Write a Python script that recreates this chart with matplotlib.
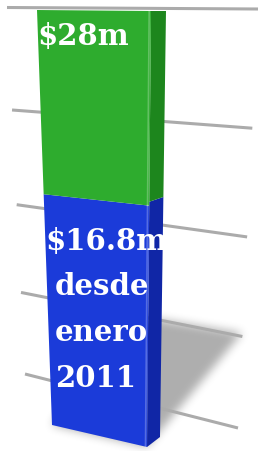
import numpy as np
import matplotlib
matplotlib.use("Agg")
import matplotlib.pyplot as plt
from matplotlib.transforms import Transform, Affine2D
from matplotlib.patches import Polygon
from matplotlib.path import Path

# ---------------- data ----------------
segment_names = ["desde enero 2011", "total"]
segment_values = [16.8, 11.2]          # stacked: blue bottom, green top (total 28)
segment_labels = ["\\$16.8m\ndesde\nenero\n2011", "\\$28m"]
grid_values = [0, 7, 14, 21, 28]

# ---------------- style ----------------
front_colors = ["#1b3bd9", "#2eac2e"]
side_colors = ["#1026a6", "#1d861d"]
grid_color = "#ababab"
W, H = 259, 451
DPI = 100


class Homography(Transform):
    """Projective (perspective) map from (u, value) space to canvas pixels."""
    input_dims = output_dims = 2
    is_separable = False
    has_inverse = False

    def __init__(self, src, dst):
        super().__init__()
        A, b = [], []
        for (x, y), (X, Y) in zip(src, dst):
            A.append([x, y, 1, 0, 0, 0, -X * x, -X * y]); b.append(X)
            A.append([0, 0, 0, x, y, 1, -Y * x, -Y * y]); b.append(Y)
        h = np.linalg.solve(np.array(A, float), np.array(b, float))
        self.M = np.append(h, 1.0).reshape(3, 3)

    def transform_non_affine(self, values):
        v = np.atleast_2d(np.asarray(values, float))
        p = np.c_[v, np.ones(len(v))] @ self.M.T
        return p[:, :2] / p[:, 2:3]


vmax = float(sum(segment_values))
unit_src = [(0, vmax), (1, vmax), (0, 0), (1, 0)]
wall = Homography(unit_src, [(7, 7.5), (258, 9), (25, 374), (238, 428)])
front = Homography(unit_src, [(37, 10), (151, 11), (52, 425), (147, 447)])
side = Homography(unit_src, [(151, 11), (166, 11), (147, 447), (160, 437)])

fig = plt.figure(figsize=(W / DPI, H / DPI), dpi=DPI)
ax = fig.add_axes([0, 0, 1, 1])
ax.set_xlim(0, W)
ax.set_ylim(H, 0)
ax.axis("off")

# ---------------- soft cast shadow ----------------
bl = front.transform([(0, 0)])[0]
br = front.transform([(1, 0)])[0]
tr = front.transform([(1, vmax)])[0]
tl = front.transform([(0, vmax)])[0]
tr_target = np.array([242.0, 333.0])
src_m = np.column_stack([br - bl, tr - br])
dst_m = np.column_stack([br - bl, tr_target - br])
Mlin = dst_m @ np.linalg.inv(src_m)
shadow_pts = np.array([(Mlin @ (p - bl)) + bl for p in [bl, br, tr, tl]])
gx, gy = np.meshgrid(np.arange(W) + 0.5, np.arange(H) + 0.5)
inside = Path(shadow_pts).contains_points(np.c_[gx.ravel(), gy.ravel()]).reshape(H, W).astype(float)
k = np.ones(9) / 9.0
blur = inside
for _ in range(3):
    blur = np.apply_along_axis(lambda r: np.convolve(r, k, mode="same"), 1, blur)
    blur = np.apply_along_axis(lambda c: np.convolve(c, k, mode="same"), 0, blur)
rgba = np.zeros((H, W, 4))
rgba[..., 3] = blur * 0.32
ax.imshow(rgba, extent=(0, W, H, 0), zorder=1, interpolation="bilinear")

# ---------------- back-wall gridlines ----------------
for gv in grid_values:
    ax.plot([0, 1], [gv, gv], color=grid_color, lw=2.2, solid_capstyle="butt",
            transform=wall + ax.transData, zorder=2)

# ---------------- stacked 3D bar ----------------
bottom = 0.0
for val, fc, sc in zip(segment_values, front_colors, side_colors):
    top = bottom + val
    quad = [(0, bottom), (1, bottom), (1, top), (0, top)]
    ax.add_patch(Polygon(quad, closed=True, facecolor=sc, edgecolor="none",
                         transform=side + ax.transData, zorder=3))
    ax.add_patch(Polygon(quad, closed=True, facecolor=fc, edgecolor="none",
                         transform=front + ax.transData, zorder=4))
    # bevel highlight along the front-right edge
    ax.plot([0.985, 0.985], [bottom, top], color="white", alpha=0.25, lw=1.2,
            transform=front + ax.transData, zorder=4.5)
    bottom = top

# ---------------- labels ----------------
font = dict(family="DejaVu Serif", weight="bold", size=21, color="white", zorder=6)
blue_lines = segment_labels[0].split("\n")
blue_x = [45, 55, 55, 55]
blue_y = [250, 295, 341, 387]
for t, x, y in zip(blue_lines, blue_x, blue_y):
    ax.text(x, y, t, ha="left", va="baseline", **font)
ax.text(37, 45, segment_labels[1], ha="left", va="baseline", **font)

fig.savefig("out.png", dpi=DPI)
